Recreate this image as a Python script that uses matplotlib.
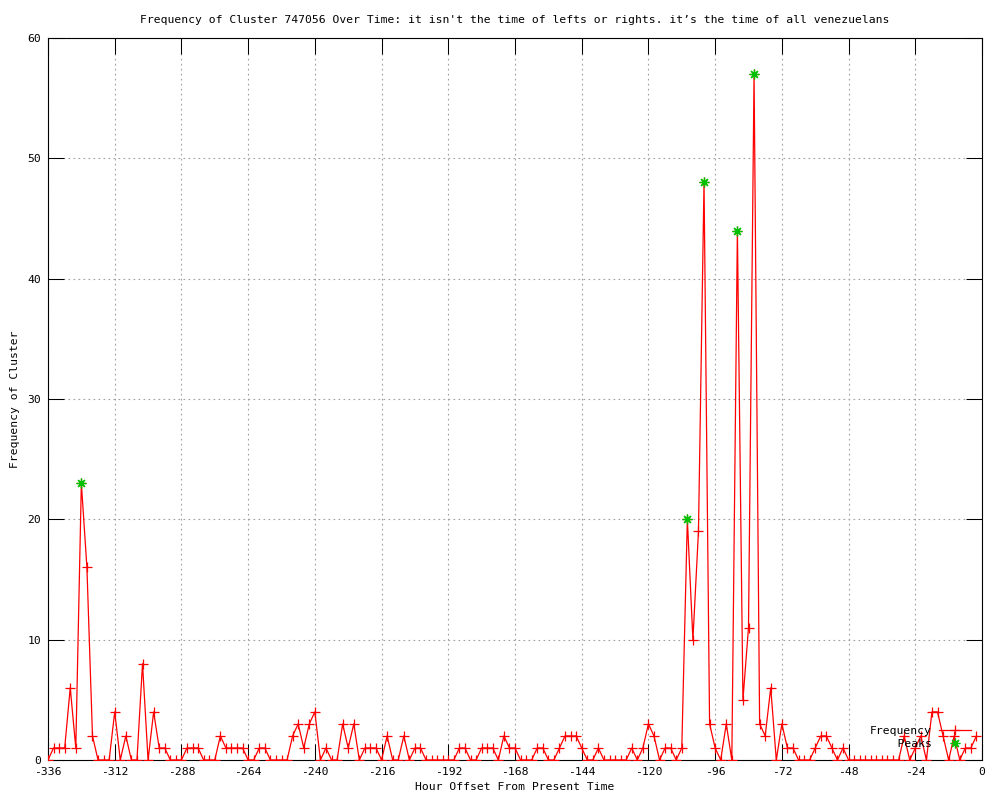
import matplotlib
matplotlib.use("Agg")
import matplotlib.pyplot as plt

plt.rcParams["axes.unicode_minus"] = False

# hours sampled every 2h from -336 up to -2
hours = list(range(-336, 0, 2))
counts = [
    0, 1, 1, 1, 6, 1, 23, 16, 2, 0, 0, 0, 4, 0, 2, 0, 0, 8, 0, 4,      # -336 .. -298
    1, 1, 0, 0, 0, 1, 1, 1, 0, 0, 0, 2, 1, 1, 1, 1, 0, 0, 1, 1,         # -296 .. -258
    0, 0, 0, 0, 2, 3, 1, 3, 4, 0, 1, 0, 0, 3, 1, 3, 0, 1, 1, 1,         # -256 .. -218
    0, 2, 0, 0, 2, 0, 1, 1, 0, 0, 0, 0, 0, 0, 1, 1, 0, 0, 1, 1,         # -216 .. -178
    1, 0, 2, 1, 1, 0, 0, 0, 1, 1, 0, 0, 1, 2, 2, 2, 1, 0, 0, 1,         # -176 .. -138
    0, 0, 0, 0, 0, 1, 0, 1, 3, 2, 0, 1, 1, 0, 1, 20, 10, 19, 48, 3,     # -136 .. -98
    1, 0, 3, 0, 44, 5, 11, 57, 3, 2, 6, 0, 3, 1, 1, 0, 0, 0, 1, 2,      # -96 .. -58
    2, 1, 0, 1, 0, 0, 0, 0, 0, 0, 0, 0, 0, 0, 2, 0, 1, 2, 0, 4,         # -56 .. -18
    4, 2, 0, 2, 0, 1, 1, 2,                                             # -16 .. -2
]

peak_hours = [-324, -106, -100, -88, -82]
peak_counts = [23, 20, 48, 44, 57]

x_ticks = list(range(-336, 1, 24))
y_ticks = list(range(0, 61, 10))

FONT = "DejaVu Sans Mono"
FS = 8.2

fig = plt.figure(figsize=(10, 8), dpi=100)
ax = fig.add_axes([0.048, 0.05, 0.934, 0.9025])

ax.plot(hours, counts, color="#ff0000", lw=0.9, marker="+", markersize=7,
        markeredgewidth=0.9, label="Frequency", zorder=3)
ax.plot(peak_hours, peak_counts, ls="none", color="#00c000", marker=(8, 2, 0),
        markersize=7, markeredgewidth=0.9, label="    Peaks", zorder=4)

ax.set_xlim(-336, 0)
ax.set_ylim(0, 60)
ax.set_xticks(x_ticks)
ax.set_yticks(y_ticks)
ax.grid(True, color="#a0a0a0", linestyle=(0, (1.5, 3)), linewidth=0.8)
ax.set_axisbelow(True)

ax.tick_params(direction="in", length=11.5, width=0.75, top=True, right=True,
               labelsize=FS, pad=5)
for lab in ax.get_xticklabels() + ax.get_yticklabels():
    lab.set_fontfamily(FONT)
for sp in ax.spines.values():
    sp.set_linewidth(0.8)

ax.set_title("Frequency of Cluster 747056 Over Time: it isn't the time of lefts or rights. "
             "it\u2019s the time of all venezuelans",
             fontfamily=FONT, fontsize=FS, pad=11)
ax.set_xlabel("Hour Offset From Present Time", fontfamily=FONT, fontsize=FS, labelpad=4)
ax.set_ylabel("Frequency of Cluster", fontfamily=FONT, fontsize=FS, labelpad=5)

leg = ax.legend(loc="lower right", frameon=False, markerfirst=False,
                prop={"family": FONT, "size": FS}, handlelength=2.8,
                handletextpad=0.6, labelspacing=0.2, borderaxespad=0.6)

fig.savefig("out.png", dpi=100)
